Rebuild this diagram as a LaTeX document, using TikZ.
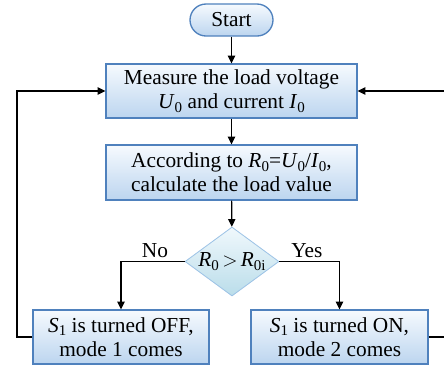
\documentclass[tikz,border=0pt]{standalone}
\usepackage{fontspec}
\setmainfont{Liberation Serif}
\usetikzlibrary{arrows.meta, shapes.geometric}
\definecolor{boxline}{RGB}{79,129,189}
\definecolor{boxtop}{RGB}{246,250,254}
\definecolor{boxbot}{RGB}{188,213,239}
\definecolor{decline}{RGB}{157,195,230}
\definecolor{dectop}{RGB}{240,248,252}
\definecolor{decbot}{RGB}{186,221,234}
\newcommand{\sym}[2]{\textit{#1}\raisebox{-0.35ex}{\fontsize{9}{10}\selectfont #2}}

\begin{document}
\begin{tikzpicture}[x=0.6pt, y=-0.6pt,
    every node/.style={font=\fontsize{12.8}{14.6}\selectfont, align=center},
    procbox/.style={draw=boxline, line width=0.8pt, top color=boxtop, bottom color=boxbot, minimum height=32.4pt, inner sep=2pt},
    termbox/.style={draw=boxline, line width=0.8pt, top color=boxtop, bottom color=boxbot, rounded corners=9.6pt, minimum width=49.8pt, minimum height=19.2pt},
    decbox/.style={diamond, draw=decline, line width=0.5pt, top color=dectop, bottom color=decbot, aspect=1.36, inner sep=0pt, minimum width=56.4pt, minimum height=41.4pt},
    arr/.style={-{Triangle[length=4.6pt, width=4.4pt]}, line width=0.7pt}]

    % Fix the frame of the picture
    \useasboundingbox (0,0) rectangle (444,369);

    % Helper points for the feedback lines
    \coordinate (fbL) at (17,0);   % left return line
    \coordinate (fbR) at (450,0);  % right return line (runs off the edge)

    % Main flow
    \node[termbox] (start) at (231.5,20) {Start};
    \node[procbox, minimum width=150.6pt] (measure) at (231.5,91)
        {Measure the load voltage\\ \sym{U}{0} and current \sym{I}{0}};
    \node[procbox, minimum width=150.6pt, minimum height=33pt] (calc) at (231.5,172.5)
        {According to \sym{R}{0}=\sym{U}{0}/\sym{I}{0},\\ calculate the load value};
    \node[decbox] (dec) at (232,261.5) {\sym{R}{0}$\,>\,$\sym{R}{0i}};

    % The two branches
    \node[procbox, minimum width=105.6pt] (off) at (121,337)
        {\sym{S}{1} is turned OFF,\\ mode 1 comes};
    \node[procbox, minimum width=106.2pt] (on) at (339.5,337)
        {\sym{S}{1} is turned ON,\\ mode 2 comes};

    % Arrows down the middle
    \draw[arr] (start) -- (measure);
    \draw[arr] (measure) -- (calc);
    \draw[arr] (calc) -- (dec);

    % Decision arrows
    \draw[arr] (dec.west) -| (off.north);
    \draw[arr] (dec.east) -| (on.north);
    \node[inner sep=1pt] (lno) at (155,251) {No};
    \node[inner sep=1pt] (lyes) at (307,251) {Yes};

    % Feedback to the measuring step
    \draw[arr] (off.west) -- (off.west -| fbL) |- (measure.west);
    \draw[arr] (on.east) -- (on.east -| fbR) |- (measure.east);
\end{tikzpicture}
\end{document}
